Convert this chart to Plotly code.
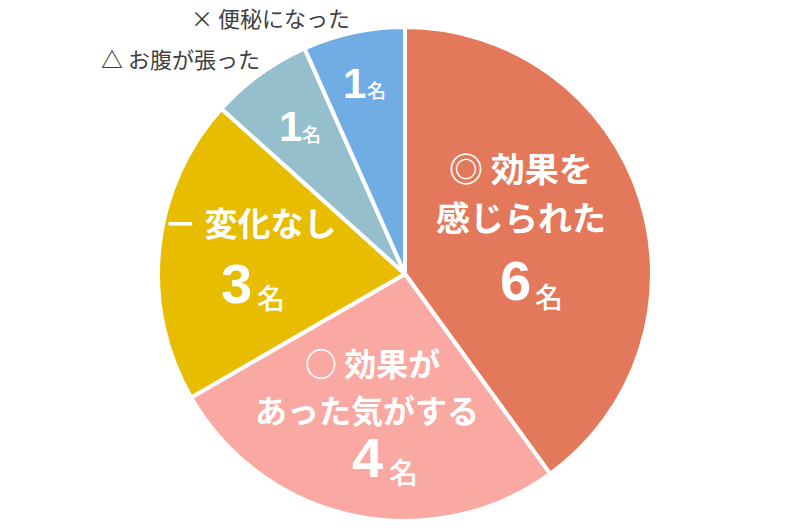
import plotly.graph_objects as go

categories = ["◎ 効果を感じられた", "○ 効果があった気がする", "－ 変化なし", "△ お腹が張った", "× 便秘になった"]
label_lines = [["◎ 効果を", "感じられた"], ["○ 効果が", "あった気がする"], ["－ 変化なし"], [], []]
values = [6, 4, 3, 1, 1]
colors = ["#E3785A", "#F9A9A1", "#E8BD00", "#95BFCD", "#71ADE5"]
unit = "名"

W, H = 810, 528
FONT = "Noto Sans CJK JP"
NUMFONT = "Liberation Sans"

# pie geometry in pixels
cx, cy, r = 405, 274, 247
dom_x = [(cx - r) / W, (cx + r) / W]
dom_y = [1 - (cy + r) / H, 1 - (cy - r) / H]

fig = go.Figure(go.Pie(
    labels=categories,
    values=values,
    sort=False,
    direction="clockwise",
    rotation=0,
    marker=dict(colors=colors, line=dict(color="white", width=4)),
    textinfo="none",
    hoverinfo="label+value",
    showlegend=False,
    domain=dict(x=dom_x, y=dom_y),
))


def px(x, y):
    return x / W, 1 - y / H

ann = []

def add(text, x, y, size, color="white", weight=700, family=FONT):
    xx, yy = px(x, y)
    ann.append(dict(text=text, x=xx, y=yy, xref="paper", yref="paper", showarrow=False,
                    xanchor="center", yanchor="middle", borderpad=0,
                    font=dict(family=family, size=size, color=color, weight=weight)))

def count(n, nx, ny, nsize, ux, uy, usize):
    add(str(n), nx, ny, nsize, family=NUMFONT, weight=700)
    add(unit, ux, uy, usize, weight=500)

# orange slice
add(label_lines[0][0], 521, 167, 34)
add(label_lines[0][1], 521, 216, 34)
count(values[0], 515, 280, 56, 549, 296, 28)
# pink slice
add(label_lines[1][0], 372, 362, 32)
add(label_lines[1][1], 367, 409, 32)
count(values[1], 367, 457, 56, 403, 471, 29)
# yellow slice
add(label_lines[2][0], 250, 222, 33)
count(values[2], 236, 283, 56, 271, 297, 28)
# small slices
count(values[3], 290, 127, 42, 311, 133, 19)
count(values[4], 354, 83, 42, 376, 89, 19)
# outside labels
add("× " + categories[4][2:], 270, 17, 22, color="#404040", weight=400)
add("<b>△</b> " + categories[3][2:], 180, 58, 22, color="#404040", weight=400)

fig.update_layout(
    width=W, height=H,
    margin=dict(l=0, r=0, t=0, b=0),
    paper_bgcolor="white", plot_bgcolor="white",
    annotations=ann,
)

fig.write_html("out.html", config={"displayModeBar": False},
               post_script="document.body.style.margin='0';")
